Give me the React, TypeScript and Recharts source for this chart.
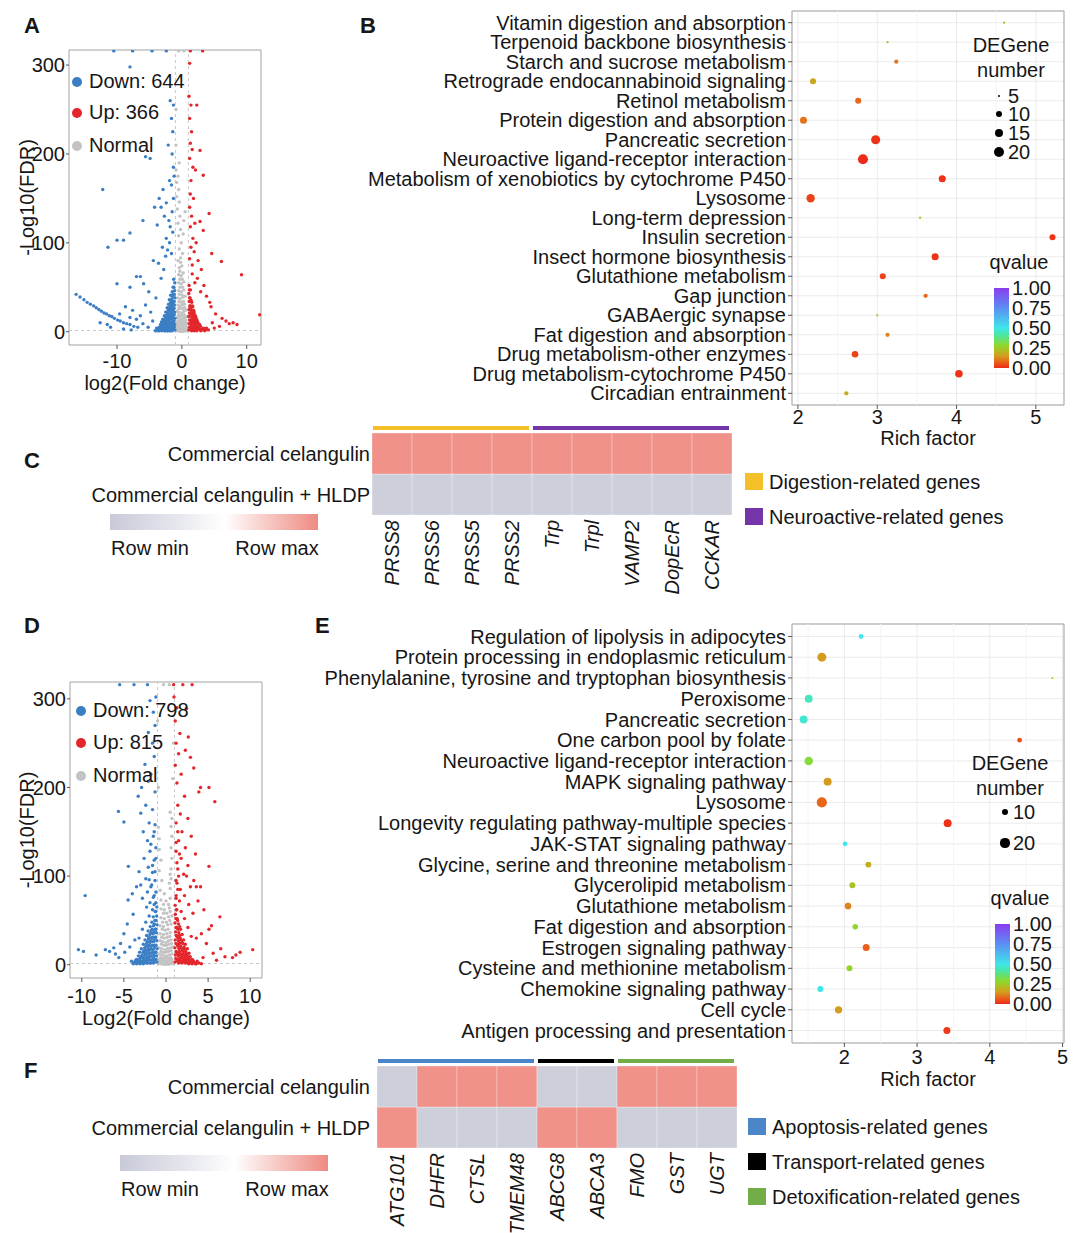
import React from 'react';
import {
  ScatterChart, Scatter, XAxis, YAxis, ZAxis, CartesianGrid, ReferenceLine, ReferenceArea, Cell,
  BarChart, Bar,
} from 'recharts';

const FONT = "'Liberation Sans', Arial, Helvetica, sans-serif";
const INK = '#161616';
const BLUE = '#3b7ec3';
const RED = '#e3262b';
const GRAY = '#c3c3c3';
const BORDER = '#a3a3a3';

type P = [number, number];

// ---------- A: volcano (celangulin) ----------
const downA: P[] = [
  [-16.3, 42], [-15.7, 39], [-15.1, 36], [-14.6, 33], [-14.1, 31], [-13.6, 29], [-13.2, 27], [-12.8, 25], [-12.4, 23],
  [-12.0, 21], [-11.6, 20], [-11.2, 18], [-10.8, 17], [-10.4, 15], [-9.9, 13], [-9.5, 12], [-9.0, 10], [-8.5, 9],
  [-8.0, 8], [-7.4, 6], [-6.8, 5],
  [-12.6, 10], [-11.5, 8], [-11.0, 5], [-9.6, 20], [-9.0, 3], [-8.7, 28], [-8.0, 16], [-7.8, 2], [-7.6, 24], [-7.0, 14],
  [-6.4, 18], [-6.0, 9], [-5.6, 30], [-5.2, 5], [-4.8, 22], [-4.5, 12],
  [-10.0, 54], [-8.0, 50], [-7.0, 62], [-6.4, 62], [-5.9, 54], [-5.1, 45], [-4.4, 80], [-4.0, 38], [-3.6, 77], [-3.2, 60],
  [-2.8, 70], [-2.5, 85], [-2.2, 92], [-1.9, 100], [-1.6, 88], [-1.4, 112], [-1.8, 118], [-2.4, 105], [-3.0, 95],
  [-11.4, 95], [-10.0, 103], [-9.0, 103], [-8.0, 111], [-6.0, 125], [-12.2, 160], [-5.6, 197], [-4.9, 195], [-8.0, 298],
  [-4.2, 140], [-3.8, 120], [-3.5, 150], [-3.2, 140], [-2.9, 160], [-2.7, 130], [-2.4, 145], [-2.0, 125], [-1.5, 135],
  [-1.3, 150], [-1.2, 175], [-1.6, 165], [-1.9, 170], [-1.3, 185], [-1.5, 200], [-2.1, 210], [-1.4, 225], [-1.6, 240],
  [-1.3, 255], [-1.8, 260],
  [-10.5, 316], [-7.6, 316], [-4.6, 316], [-2.4, 316],
  [-1.08, 2], [-1.12, 8], [-1.06, 15], [-1.1, 22], [-1.15, 30], [-1.07, 38], [-1.12, 46], [-1.09, 55],
  [-1.3, 4], [-1.28, 11], [-1.34, 18], [-1.27, 26], [-1.32, 34], [-1.29, 42], [-1.35, 50], [-1.26, 59],
  [-1.52, 1], [-1.48, 7], [-1.55, 14], [-1.5, 21], [-1.46, 29], [-1.54, 37], [-1.49, 45],
  [-1.72, 3], [-1.68, 10], [-1.74, 17], [-1.7, 25], [-1.66, 33], [-1.73, 41],
  [-1.91, 1], [-1.88, 6], [-1.95, 13], [-1.9, 20], [-1.86, 28], [-1.93, 36],
  [-2.12, 3], [-2.08, 9], [-2.15, 16], [-2.1, 24], [-2.06, 31],
  [-2.32, 1], [-2.28, 6], [-2.34, 12], [-2.3, 19], [-2.27, 27],
  [-2.52, 3], [-2.48, 9], [-2.55, 15], [-2.5, 22],
  [-2.72, 1], [-2.68, 6], [-2.74, 12], [-2.7, 18],
  [-2.92, 3], [-2.88, 8], [-2.95, 14], [-3.12, 1], [-3.08, 5], [-3.14, 11],
  [-3.32, 3], [-3.28, 8], [-3.52, 1], [-3.48, 5], [-3.72, 2], [-3.9, 4], [-4.1, 1],
  [-1.19, 5], [-1.21, 12], [-1.18, 19], [-1.22, 26], [-1.2, 34], [-1.17, 42], [-1.23, 50],
  [-1.4, 2], [-1.42, 9], [-1.39, 16], [-1.41, 24], [-1.43, 32], [-1.38, 40],
  [-1.6, 4], [-1.62, 11], [-1.59, 18], [-1.61, 26], [-1.63, 34],
  [-1.8, 1], [-1.82, 8], [-1.79, 15], [-1.81, 23], [-1.78, 31],
  [-2.0, 5], [-2.02, 11], [-1.99, 18], [-2.01, 26],
  [-2.2, 1], [-2.22, 7], [-2.19, 14], [-2.21, 21],
  [-2.4, 4], [-2.42, 10], [-2.39, 17], [-2.6, 1], [-2.62, 6], [-2.59, 12],
  [-2.8, 3], [-2.82, 9], [-3.0, 2], [-3.02, 7], [-3.2, 5], [-3.4, 2], [-3.6, 4], [-3.8, 1],
];
const upA: P[] = [
  [1.2, 302], [1.1, 265], [1.4, 255], [2.3, 255], [1.2, 240], [1.5, 225], [1.3, 212], [1.6, 205], [2.8, 204], [1.2, 195],
  [1.7, 185], [2.1, 182], [3.3, 176], [1.4, 170], [1.3, 155], [1.8, 150], [1.2, 140], [1.5, 130], [2.0, 122], [2.8, 124],
  [3.3, 114], [4.2, 133], [1.3, 118], [1.7, 105], [2.2, 100], [1.4, 95], [4.6, 88], [6.1, 79], [9.2, 64], [1.9, 90],
  [2.5, 80], [3.0, 70], [1.6, 75], [1.2, 82],
  [12.0, 19], [7.3, 9], [7.9, 10], [8.5, 8], [6.8, 12], [4.5, 28], [4.3, 33], [5.2, 20], [5.8, 6], [6.2, 15], [3.8, 40],
  [3.4, 52], [2.9, 45], [2.4, 60], [2.0, 55], [1.6, 65], [5.0, 4], [4.7, 10],
  [1.3, 316], [3.2, 316],
  [1.08, 2], [1.12, 9], [1.06, 17], [1.1, 25], [1.14, 34], [1.07, 43], [1.11, 52],
  [1.3, 5], [1.27, 13], [1.33, 21], [1.29, 29], [1.26, 38], [1.32, 47],
  [1.5, 1], [1.47, 8], [1.53, 16], [1.49, 24], [1.52, 33],
  [1.7, 4], [1.67, 11], [1.73, 19], [1.69, 28],
  [1.9, 1], [1.88, 7], [1.93, 14], [1.89, 22],
  [2.1, 3], [2.07, 10], [2.13, 17], [2.3, 1], [2.28, 6], [2.33, 13],
  [2.6, 3], [2.57, 9], [2.9, 1], [2.88, 6], [3.2, 3], [3.5, 1], [3.8, 4], [4.1, 2],
  [1.19, 5], [1.21, 13], [1.18, 21], [1.22, 29], [1.2, 38], [1.17, 47],
  [1.4, 3], [1.42, 11], [1.39, 19], [1.41, 27], [1.43, 35],
  [1.6, 5], [1.62, 13], [1.59, 21], [1.61, 29],
  [1.8, 2], [1.82, 9], [1.79, 17], [1.81, 24],
  [2.0, 5], [2.02, 12], [1.99, 19], [2.2, 2], [2.22, 8], [2.19, 15],
  [2.45, 5], [2.42, 11], [2.75, 3], [2.72, 8], [3.05, 2], [3.35, 4], [3.65, 2],
];
const normalA: P[] = [
  [-0.9, 1], [-0.6, 1], [-0.3, 0.5], [0, 0.3], [0.3, 0.5], [0.6, 1], [0.9, 1],
  [-0.8, 5], [-0.5, 4], [-0.2, 3], [0.1, 3], [0.4, 4], [0.7, 5],
  [-0.8, 10], [-0.5, 9], [-0.2, 8], [0.1, 8], [0.4, 9], [0.7, 10],
  [-0.7, 16], [-0.4, 15], [-0.1, 14], [0.2, 15], [0.5, 16], [0.8, 17],
  [-0.7, 23], [-0.4, 22], [0.0, 21], [0.3, 23], [0.6, 24],
  [-0.6, 30], [-0.3, 29], [0.1, 30], [0.4, 31],
  [-0.6, 38], [-0.2, 37], [0.2, 39], [0.5, 40],
  [-0.5, 46], [-0.1, 45], [0.3, 47], [-0.5, 55], [-0.1, 54], [0.3, 56],
  [-0.5, 64], [-0.1, 63], [0.2, 66], [-0.4, 72], [0.0, 74], [-0.6, 80], [-0.2, 83], [0.1, 88], [-0.4, 93],
  [-0.1, 100], [-0.5, 108], [-0.2, 115], [-0.6, 122], [-0.3, 130], [-0.7, 138], [-0.4, 146], [-0.8, 152],
  [-0.5, 160], [-0.8, 168], [-0.6, 175], [-0.9, 182], [-0.4, 190], [0.2, 110], [0.3, 125], [-0.9, 210],
  [-0.9, 250], [0.5, 135], [-0.5, 316], [0.3, 316],
  [-0.75, 3], [-0.45, 2], [-0.15, 1.5], [0.15, 1.5], [0.45, 2], [0.75, 3], [-0.65, 7], [-0.35, 6], [-0.05, 5.5],
  [0.25, 6], [0.55, 7], [-0.6, 12], [-0.3, 12], [0, 11], [0.3, 12], [0.6, 13], [-0.55, 19], [-0.25, 18], [0.05, 18],
  [0.35, 19], [-0.5, 26], [-0.2, 26], [0.15, 26], [0.45, 27], [-0.45, 34], [-0.1, 33], [0.25, 34], [-0.4, 42],
  [0.05, 41], [-0.3, 50], [0.1, 50], [-0.3, 59], [0.05, 59], [-0.3, 68], [-0.2, 78],
];

// ---------- D: volcano (celangulin + HLDP) ----------
const downD: P[] = [
  [-5.5, 316], [-3.8, 316], [-2.2, 316],
  [-1.2, 302], [-1.9, 298], [-1.5, 285], [-1.3, 270], [-2.1, 262], [-1.6, 250], [-2.5, 226], [-1.4, 235], [-2.1, 207],
  [-2.9, 200], [-3.3, 190], [-1.8, 215], [-1.3, 195], [-3.0, 171], [-2.4, 180], [-5.65, 173], [-5.0, 161], [-1.6, 175],
  [-2.0, 160], [-1.3, 158], [-2.7, 150], [-1.5, 145], [-2.2, 140], [-1.2, 132], [-1.9, 128], [-2.6, 120], [-1.4, 118],
  [-4.47, 111], [-2.1, 110], [-3.2, 105], [-1.6, 104], [-1.3, 95], [-2.4, 97], [-3.0, 90], [-1.8, 88], [-3.5, 88],
  [-4.0, 80], [-4.5, 73], [-2.2, 82], [-1.4, 78], [-2.8, 75], [-9.6, 78], [-3.9, 57], [-4.6, 46], [-5.0, 35], [-5.4, 24],
  [-4.3, 20], [-3.7, 28], [-6.0, 12], [-6.2, 19], [-6.7, 15], [-7.2, 17], [-8.3, 11], [-9.8, 15], [-10.4, 17], [-5.6, 8],
  [-4.9, 14],
  [-1.2, 70], [-1.4, 68], [-1.6, 62], [-1.2, 82], [-1.5, 76], [-1.9, 70], [-2.3, 65], [-1.7, 90], [-2.0, 96], [-1.3, 105],
  [-1.6, 112], [-1.2, 120], [-1.8, 136], [-1.4, 150], [-2.0, 55], [-2.4, 48], [-2.8, 40], [-3.2, 30],
  [-1.08, 3], [-1.12, 10], [-1.06, 18], [-1.1, 27], [-1.14, 36], [-1.07, 45], [-1.11, 55], [-1.09, 65],
  [-1.3, 6], [-1.27, 14], [-1.33, 22], [-1.29, 31], [-1.26, 40], [-1.32, 50], [-1.28, 60],
  [-1.5, 2], [-1.47, 9], [-1.53, 17], [-1.49, 26], [-1.52, 35], [-1.48, 44], [-1.51, 54],
  [-1.7, 5], [-1.67, 13], [-1.73, 21], [-1.69, 30], [-1.72, 39], [-1.68, 48],
  [-1.9, 2], [-1.88, 9], [-1.93, 17], [-1.89, 25], [-1.92, 34], [-1.87, 43],
  [-2.1, 5], [-2.07, 12], [-2.13, 20], [-2.09, 29], [-2.12, 38],
  [-2.3, 2], [-2.28, 8], [-2.33, 16], [-2.29, 24], [-2.31, 33],
  [-2.5, 4], [-2.47, 11], [-2.53, 19], [-2.49, 28],
  [-2.7, 1], [-2.68, 7], [-2.73, 14], [-2.69, 23],
  [-2.9, 4], [-2.88, 10], [-2.93, 18], [-3.1, 1], [-3.08, 7], [-3.13, 14],
  [-3.3, 3], [-3.28, 10], [-3.5, 1], [-3.48, 6], [-3.7, 3], [-3.9, 1], [-4.1, 4],
  [-1.19, 6], [-1.21, 14], [-1.18, 22], [-1.22, 31], [-1.2, 40], [-1.17, 50], [-1.23, 60],
  [-1.4, 3], [-1.42, 11], [-1.39, 19], [-1.41, 28], [-1.43, 37], [-1.38, 46],
  [-1.6, 6], [-1.62, 14], [-1.59, 22], [-1.61, 31], [-1.63, 40],
  [-1.8, 2], [-1.82, 10], [-1.79, 18], [-1.81, 27], [-1.78, 36],
  [-2.0, 6], [-2.02, 14], [-1.99, 22], [-2.01, 31],
  [-2.2, 2], [-2.22, 9], [-2.19, 17], [-2.21, 26],
  [-2.4, 5], [-2.42, 13], [-2.39, 21], [-2.6, 2], [-2.62, 8], [-2.59, 16],
  [-2.8, 4], [-2.82, 11], [-3.0, 2], [-3.02, 8], [-3.2, 5], [-3.4, 2], [-3.6, 5], [-3.8, 2],
];
const upD: P[] = [
  [0.9, 316], [2.0, 316], [3.1, 316],
  [0.95, 302], [1.3, 290], [2.45, 289], [1.1, 275], [1.65, 261], [2.65, 257], [1.2, 250], [2.3, 242], [1.5, 238],
  [2.9, 234], [1.1, 225], [3.3, 222], [1.8, 215], [1.3, 205], [4.1, 200], [5.1, 200], [3.9, 195], [2.2, 190], [5.8, 184],
  [1.4, 180], [1.7, 170], [2.6, 165], [1.2, 160], [1.9, 150], [3.0, 145], [1.5, 140], [2.3, 132], [1.2, 128], [3.5, 125],
  [1.8, 120], [2.6, 112], [5.1, 111], [1.4, 108], [2.1, 102], [2.45, 100], [3.3, 95], [1.3, 92], [2.9, 88], [3.6, 88],
  [4.1, 88], [1.7, 85], [2.2, 78], [3.8, 72], [1.2, 75], [2.7, 68], [4.5, 62], [6.4, 54], [3.2, 58], [5.1, 40], [5.4, 44],
  [4.2, 35], [3.6, 30], [4.8, 24], [5.6, 13], [6.5, 18], [7.0, 9], [7.9, 8], [8.3, 11], [8.8, 14], [10.3, 17], [6.0, 5],
  [4.4, 8],
  [1.2, 78], [1.4, 85], [1.6, 72], [1.2, 95], [1.5, 100], [1.3, 115], [1.6, 125], [1.2, 138], [1.4, 150], [1.8, 60],
  [2.2, 52], [2.6, 42], [3.0, 32],
  [1.08, 3], [1.12, 11], [1.06, 19], [1.1, 28], [1.14, 37], [1.07, 47], [1.11, 57], [1.09, 67],
  [1.3, 6], [1.27, 14], [1.33, 23], [1.29, 32], [1.26, 42], [1.32, 52], [1.28, 62],
  [1.5, 2], [1.47, 10], [1.53, 18], [1.49, 27], [1.52, 36], [1.48, 46],
  [1.7, 5], [1.67, 13], [1.73, 21], [1.69, 30], [1.72, 40],
  [1.9, 2], [1.88, 9], [1.93, 17], [1.89, 25], [1.92, 34],
  [2.1, 5], [2.07, 12], [2.13, 20], [2.09, 28],
  [2.3, 2], [2.28, 8], [2.33, 15], [2.29, 23],
  [2.5, 4], [2.47, 11], [2.53, 18], [2.7, 1], [2.68, 7], [2.73, 13],
  [2.9, 3], [2.88, 9], [3.1, 1], [3.08, 6], [3.3, 3], [3.5, 1], [3.7, 4], [3.9, 2], [4.2, 1],
  [1.19, 7], [1.21, 15], [1.18, 24], [1.22, 33], [1.2, 42], [1.17, 52], [1.23, 62],
  [1.4, 4], [1.42, 12], [1.39, 21], [1.41, 30], [1.43, 40], [1.38, 50],
  [1.6, 7], [1.62, 15], [1.59, 24], [1.61, 33], [1.63, 43],
  [1.8, 3], [1.82, 11], [1.79, 19], [1.81, 28],
  [2.0, 7], [2.02, 15], [1.99, 24], [2.2, 3], [2.22, 10], [2.19, 18],
  [2.4, 6], [2.42, 13], [2.6, 2], [2.62, 9], [2.8, 5], [3.0, 2], [3.2, 5], [3.4, 2], [3.6, 1],
];
const normalD: P[] = [
  [-0.9, 1], [-0.6, 1], [-0.3, 0.5], [0, 0.3], [0.3, 0.5], [0.6, 1], [0.9, 1],
  [-0.8, 6], [-0.5, 5], [-0.2, 4], [0.1, 4], [0.4, 5], [0.7, 6],
  [-0.8, 12], [-0.5, 11], [-0.2, 10], [0.1, 10], [0.4, 11], [0.7, 12],
  [-0.8, 19], [-0.5, 18], [-0.1, 17], [0.2, 18], [0.5, 19], [0.8, 20],
  [-0.7, 27], [-0.4, 26], [0.0, 25], [0.3, 27], [0.6, 28],
  [-0.7, 35], [-0.3, 34], [0.1, 35], [0.5, 36],
  [-0.7, 44], [-0.3, 43], [0.2, 45], [0.6, 46],
  [-0.6, 53], [-0.2, 52], [0.3, 54], [0.7, 55],
  [-0.6, 63], [-0.2, 62], [0.4, 64], [-0.6, 73], [0.0, 72], [0.5, 75],
  [-0.7, 84], [0.5, 86], [-0.5, 95], [0.6, 97], [-0.8, 106], [0.6, 108], [-0.6, 118], [0.7, 120], [-0.8, 130],
  [0.6, 132], [-0.8, 142], [0.7, 145], [0.6, 156], [0.7, 165], [-0.9, 155], [0.5, 172], [-0.9, 200], [0.8, 210],
  [-1.0, 275], [0.9, 250], [-0.3, 316], [0.4, 316],
  [-0.75, 3], [-0.45, 2], [-0.15, 1.5], [0.15, 1.5], [0.45, 2], [0.75, 3], [-0.65, 8], [-0.35, 7], [-0.05, 7],
  [0.25, 7], [0.55, 8], [-0.6, 15], [-0.3, 14], [0, 14], [0.3, 15], [0.6, 16], [-0.55, 23], [-0.25, 22], [0.05, 22],
  [0.35, 23], [0.65, 24], [-0.5, 31], [-0.2, 30], [0.15, 31], [0.45, 32], [-0.45, 40], [-0.1, 39], [0.25, 40],
  [-0.4, 48], [0.05, 48], [0.45, 50], [-0.3, 58], [0.1, 58], [0.5, 60], [-0.3, 68], [0.3, 68], [-0.2, 80], [0.4, 92],
  [0.5, 102],
];

// ---------- B: KEGG enrichment (celangulin) ----------
const pathwaysB = [
  'Vitamin digestion and absorption', 'Terpenoid backbone biosynthesis', 'Starch and sucrose metabolism',
  'Retrograde endocannabinoid signaling', 'Retinol metabolism', 'Protein digestion and absorption',
  'Pancreatic secretion', 'Neuroactive ligand-receptor interaction', 'Metabolism of xenobiotics by cytochrome P450',
  'Lysosome', 'Long-term depression', 'Insulin secretion', 'Insect hormone biosynthesis', 'Glutathione metabolism',
  'Gap junction', 'GABAergic synapse', 'Fat digestion and absorption', 'Drug metabolism-other enzymes',
  'Drug metabolism-cytochrome P450', 'Circadian entrainment',
];
const richB = [4.6, 3.13, 3.24, 2.19, 2.76, 2.07, 2.98, 2.82, 3.82, 2.16, 3.54, 5.21, 3.73, 3.07, 3.61, 3.0, 3.13, 2.72, 4.03, 2.61];
const countB = [5, 5, 7, 10, 10, 12, 17, 20, 12, 15, 5, 10, 12, 10, 7, 5, 7, 11, 13, 7];
const qB = [0.2, 0.19, 0.1, 0.17, 0.08, 0.1, 0.01, 0.0, 0.01, 0.03, 0.21, 0.01, 0.01, 0.03, 0.08, 0.2, 0.12, 0.03, 0.01, 0.18];

// ---------- E: KEGG enrichment (celangulin + HLDP) ----------
const pathwaysE = [
  'Regulation of lipolysis in adipocytes', 'Protein processing in endoplasmic reticulum',
  'Phenylalanine, tyrosine and tryptophan biosynthesis', 'Peroxisome', 'Pancreatic secretion',
  'One carbon pool by folate', 'Neuroactive ligand-receptor interaction', 'MAPK signaling pathway', 'Lysosome',
  'Longevity regulating pathway-multiple species', 'JAK-STAT signaling pathway',
  'Glycine, serine and threonine metabolism', 'Glycerolipid metabolism', 'Glutathione metabolism',
  'Fat digestion and absorption', 'Estrogen signaling pathway', 'Cysteine and methionine metabolism',
  'Chemokine signaling pathway', 'Cell cycle', 'Antigen processing and presentation',
];
const richE = [2.23, 1.69, 4.86, 1.51, 1.44, 4.41, 1.51, 1.77, 1.69, 3.42, 2.01, 2.33, 2.11, 2.05, 2.15, 2.3, 2.07, 1.67, 1.92, 3.41];
const countE = [6, 19, 2, 15, 15, 6, 17, 15, 24, 15, 6, 9, 9, 11, 8, 12, 9, 9, 13, 12];
const qE = [0.5, 0.15, 0.25, 0.45, 0.47, 0.05, 0.3, 0.15, 0.08, 0.01, 0.5, 0.19, 0.23, 0.12, 0.27, 0.07, 0.27, 0.5, 0.15, 0.02];

// ---------- C / F: heatmaps (row-scaled) ----------
const rowNames = ['Commercial celangulin', 'Commercial celangulin + HLDP'];
const genesC = ['PRSS8', 'PRSS6', 'PRSS5', 'PRSS2', 'Trp', 'Trpl', 'VAMP2', 'DopEcR', 'CCKAR'];
const celC = [1, 1, 1, 1, 1, 1, 1, 1, 1];
const hldpC = [0, 0, 0, 0, 0, 0, 0, 0, 0];
const groupsC = [
  { label: 'Digestion-related genes', color: '#f4c02a', from: 0, to: 3 },
  { label: 'Neuroactive-related genes', color: '#7335a8', from: 4, to: 8 },
];
const genesF = ['ATG101', 'DHFR', 'CTSL', 'TMEM48', 'ABCG8', 'ABCA3', 'FMO', 'GST', 'UGT'];
const celF = [0, 1, 1, 1, 0, 0, 1, 1, 1];
const hldpF = [1, 0, 0, 0, 1, 1, 0, 0, 0];
const groupsF = [
  { label: 'Apoptosis-related genes', color: '#4b86c9', from: 0, to: 3 },
  { label: 'Transport-related genes', color: '#000000', from: 4, to: 5 },
  { label: 'Detoxification-related genes', color: '#73ad48', from: 6, to: 8 },
];

const qTicks = [1, 0.75, 0.5, 0.25, 0];
const Q_STOPS: [number, string][] = [
  [0, '#ee2a18'], [0.08, '#e8661a'], [0.15, '#d49c1e'], [0.2, '#bcb41e'], [0.28, '#8fd82a'],
  [0.42, '#48e6a8'], [0.5, '#3fe6ea'], [0.75, '#5b8ef2'], [1, '#8b3cf0'],
];
const HEAT_LOW = '#cdcfdb';
const HEAT_HIGH = '#f0918a';

function rgb(h: string) {
  const n = parseInt(h.slice(1), 16);
  return [(n >> 16) & 255, (n >> 8) & 255, n & 255];
}
function mix(c0: string, c1: string, t: number) {
  const a = rgb(c0), b = rgb(c1);
  return `rgb(${a.map((v, k) => Math.round(v + (b[k] - v) * t)).join(',')})`;
}
function qColor(q: number) {
  for (let i = 1; i < Q_STOPS.length; i++) {
    const [p0, c0] = Q_STOPS[i - 1];
    const [p1, c1] = Q_STOPS[i];
    if (q <= p1) return mix(c0, c1, (q - p0) / (p1 - p0));
  }
  return Q_STOPS[Q_STOPS.length - 1][1];
}
const heatColor = (v: number) => (v >= 0.5 ? HEAT_HIGH : HEAT_LOW);
const qGradient = `linear-gradient(to top, ${Q_STOPS.map(([p, c]) => `${c} ${p * 100}%`).join(', ')})`;
const zRadius = (n: number, d: number[], r: number[]) =>
  Math.sqrt((r[0] + ((r[1] - r[0]) * (n - d[0])) / (d[1] - d[0])) / Math.PI);

const T = ({ x, y, children, size = 20, weight = 400, anchor = 'start' }: any) => (
  <div
    style={{
      position: 'absolute', left: x, top: y, fontSize: size, fontWeight: weight, lineHeight: 0.9, whiteSpace: 'nowrap',
      transform: `translate(${anchor === 'middle' ? '-50%' : anchor === 'end' ? '-100%' : '0'}, -50%)`,
    }}
  >
    {children}
  </div>
);
const Dot = ({ x, y, r, color }: any) => (
  <div style={{ position: 'absolute', left: x - r, top: y - r, width: 2 * r, height: 2 * r, borderRadius: '50%', background: color }} />
);

const tickStyle = { fill: INK, fontSize: 20 };
const toXY = (pts: P[]) => pts.map(([x, y]) => ({ x, y }));
const pointShape = (color: string) => (p: any) => <circle cx={p.cx} cy={p.cy} r={1.7} fill={color} />;

function Volcano(props: any) {
  const { left, top, width, height, margin, yWidth, xHeight, xDomain, yDomain, xTicks, xLabel, xLabelOffset, xTickMargin, yLabelOffset, down, up, normal } = props;
  return (
    <div style={{ position: 'absolute', left, top }}>
      <ScatterChart width={width} height={height} margin={margin}>
        <XAxis type="number" dataKey="x" domain={xDomain} ticks={xTicks} allowDataOverflow interval={0} height={xHeight}
          axisLine={false} tickSize={4} tickMargin={xTickMargin} tickLine={{ stroke: '#555' }} tick={tickStyle}
          label={{ value: xLabel, position: 'insideBottom', offset: xLabelOffset, fill: INK, fontSize: 20 }} />
        <YAxis type="number" dataKey="y" domain={yDomain} ticks={[0, 100, 200, 300]} allowDataOverflow interval={0} width={yWidth}
          axisLine={false} tickSize={3} tickMargin={1} tickLine={{ stroke: '#555' }} tick={tickStyle}
          label={{ value: '-Log10(FDR)', angle: -90, position: 'insideLeft', offset: yLabelOffset, fill: INK, fontSize: 20, style: { textAnchor: 'middle' } }} />
        <ReferenceLine x={-1} stroke="#c8c8c8" strokeDasharray="3 3" />
        <ReferenceLine x={1} stroke="#c8c8c8" strokeDasharray="3 3" />
        <ReferenceLine y={1.3} stroke="#c8c8c8" strokeDasharray="3 3" />
        <Scatter name="Normal" data={toXY(normal)} fill={GRAY} shape={pointShape(GRAY)} isAnimationActive={false} />
        <Scatter name="Down" data={toXY(down)} fill={BLUE} shape={pointShape(BLUE)} isAnimationActive={false} />
        <Scatter name="Up" data={toXY(up)} fill={RED} shape={pointShape(RED)} isAnimationActive={false} />
        <ReferenceArea x1={xDomain[0]} x2={xDomain[1]} y1={yDomain[0]} y2={yDomain[1]} fill="none" stroke={BORDER} ifOverflow="visible" />
      </ScatterChart>
    </div>
  );
}

function Bubbles(props: any) {
  const { top, height, marginTop, xHeight, names, rich, count, q, xDomain, minor, zDomain, zRange, xTickMargin, xLabelOffset } = props;
  const n = names.length;
  const data = names.map((name: string, i: number) => ({ name, rf: rich[i], y: n - i, genes: count[i], q: q[i] }));
  return (
    <div style={{ position: 'absolute', left: 300, top }}>
      <ScatterChart width={780} height={height} margin={{ top: marginTop, right: 16, left: 0, bottom: 0 }}>
        <CartesianGrid stroke="#ebebeb" />
        {minor.map((m: number) => <ReferenceLine key={m} x={m} stroke="#f4f4f4" />)}
        <XAxis type="number" dataKey="rf" domain={xDomain} ticks={[2, 3, 4, 5]} allowDataOverflow interval={0} height={xHeight}
          axisLine={false} tickSize={4} tickMargin={xTickMargin} tickLine={{ stroke: '#555' }} tick={tickStyle}
          label={{ value: 'Rich factor', position: 'insideBottom', offset: xLabelOffset, fill: INK, fontSize: 20 }} />
        <YAxis type="number" dataKey="y" domain={[0.4, n + 0.6]} ticks={names.map((_: string, i: number) => i + 1)}
          tickFormatter={(v: number) => names[n - v]} allowDataOverflow interval={0} width={492}
          axisLine={false} tickSize={4} tickMargin={2} tickLine={{ stroke: '#555' }} tick={tickStyle} />
        <ZAxis type="number" dataKey="genes" domain={zDomain} range={zRange} />
        <Scatter data={data} isAnimationActive={false}>
          {data.map((d: any, i: number) => <Cell key={i} fill={qColor(d.q)} />)}
        </Scatter>
        <ReferenceArea x1={xDomain[0]} x2={xDomain[1]} y1={0.4} y2={n + 0.6} fill="none" stroke={BORDER} ifOverflow="visible" />
      </ScatterChart>
    </div>
  );
}

const geneTick = (p: any) => {
  const bx = p.x + 7;
  const by = p.y + 5;
  return (
    <text x={bx} y={by} transform={`rotate(-90, ${bx}, ${by})`} textAnchor="end" fontSize={20} fontStyle="italic" fill={INK}>
      {p.payload.value}
    </text>
  );
};

function Heatmap(props: any) {
  const { top, axisWidth, labelGap, genes, upper, lower } = props;
  const data = genes.map((gene: string) => ({ gene, upperRow: 1, lowerRow: 1 }));
  return (
    <div style={{ position: 'absolute', left: 0, top }}>
      <BarChart width={axisWidth + genes.length * 40} height={82 + 96} data={data} margin={{ top: 0, right: 0, left: 0, bottom: 0 }}
        barCategoryGap={0} barGap={0}>
        <XAxis dataKey="gene" interval={0} height={96} axisLine={false} tickLine={false} tickSize={0} tickMargin={0} tick={geneTick} />
        <YAxis type="number" domain={[0, 2]} ticks={[0.5, 1.5]} tickFormatter={(v: number) => (v > 1 ? rowNames[0] : rowNames[1])}
          width={axisWidth} axisLine={false} tickLine={false} tickSize={0} tickMargin={labelGap} interval={0} tick={tickStyle} />
        <Bar dataKey="lowerRow" stackId="h" isAnimationActive={false} stroke="#ffffff" strokeOpacity={0.3}>
          {lower.map((v: number, i: number) => <Cell key={i} fill={heatColor(v)} />)}
        </Bar>
        <Bar dataKey="upperRow" stackId="h" isAnimationActive={false} stroke="#ffffff" strokeOpacity={0.3}>
          {upper.map((v: number, i: number) => <Cell key={i} fill={heatColor(v)} />)}
        </Bar>
      </BarChart>
    </div>
  );
}

const rowScale = 'linear-gradient(to right, #c8cad8 0%, #e4e5ec 30%, #ffffff 55%, #f6c3be 78%, #ee8a82 100%)';

function HeatExtras({ heatLeft, barTop, scaleLeft, scaleTop, groups, legendX, legendY }: any) {
  return (
    <>
      {groups.map((g: any) => (
        <div key={g.label} style={{ position: 'absolute', left: heatLeft + g.from * 40 + 1, top: barTop, width: (g.to - g.from + 1) * 40 - 4, height: 4, background: g.color }} />
      ))}
      <div style={{ position: 'absolute', left: scaleLeft, top: scaleTop, width: 208, height: 16, background: rowScale }} />
      <T x={scaleLeft + 40} y={scaleTop + 34} anchor="middle">Row min</T>
      <T x={scaleLeft + 167} y={scaleTop + 34} anchor="middle">Row max</T>
      {groups.map((g: any, i: number) => (
        <React.Fragment key={g.label}>
          <div style={{ position: 'absolute', left: legendX, top: legendY + i * 35 - 9, width: 18, height: 17, background: g.color }} />
          <T x={legendX + 24} y={legendY + i * 35}>{g.label}</T>
        </React.Fragment>
      ))}
    </>
  );
}

function SizeLegend({ x, y, sizes, gaps, zDomain, zRange, dotX, textX }: any) {
  return (
    <>
      <T x={x} y={y} anchor="middle">DEGene</T>
      <T x={x} y={y + 25} anchor="middle">number</T>
      {sizes.map((s: number, i: number) => (
        <React.Fragment key={s}>
          <Dot x={dotX} y={y + gaps[i]} r={zRadius(s, zDomain, zRange)} color="#000" />
          <T x={textX} y={y + gaps[i]}>{s}</T>
        </React.Fragment>
      ))}
    </>
  );
}

function QLegend({ x, y }: any) {
  return (
    <>
      <T x={x + 25} y={y} anchor="middle">qvalue</T>
      <div style={{ position: 'absolute', left: x, top: y + 26, width: 15, height: 80, background: qGradient }} />
      {qTicks.map((v) => (
        <T key={v} x={x + 18} y={y + 26 + (1 - v) * 80}>{v.toFixed(2)}</T>
      ))}
    </>
  );
}

export default function App() {
  return (
    <div style={{ position: 'absolute', left: 0, top: 0, width: 1080, height: 1233, background: '#fff', fontFamily: FONT, color: INK, overflow: 'hidden' }}>
      {/* A */}
      <Volcano left={0} top={0} width={270} height={400} margin={{ top: 50, right: 9, left: 0, bottom: 0 }} yWidth={69} xHeight={55}
        xDomain={[-17.4, 12.2]} yDomain={[-15, 317]} xTicks={[-10, 0, 10]} xLabel="log2(Fold change)" xLabelOffset={10}
        xTickMargin={5} yLabelOffset={27} down={downA} up={upA} normal={normalA} />
      <Dot x={77} y={82} r={5.3} color={BLUE} /><T x={89} y={81}>Down: 644</T>
      <Dot x={77} y={113} r={5.3} color={RED} /><T x={89} y={112}>Up: 366</T>
      <Dot x={77} y={146} r={5.3} color={GRAY} /><T x={89} y={145}>Normal</T>

      {/* B */}
      <Bubbles top={0} height={450} marginTop={11} xHeight={45} names={pathwaysB} rich={richB} count={countB} q={qB}
        xDomain={[1.925, 5.355]} minor={[2.5, 3.5, 4.5]} zDomain={[5, 20]} zRange={[4, 80]} xTickMargin={1} xLabelOffset={5} />
      <SizeLegend x={1011} y={45} sizes={[5, 10, 15, 20]} gaps={[51, 69, 88, 107]} zDomain={[5, 20]} zRange={[4, 80]} dotX={999} textX={1008} />
      <QLegend x={994} y={262} />

      {/* C */}
      <Heatmap top={433} axisWidth={372} labelGap={2} genes={genesC} upper={celC} lower={hldpC} />
      <HeatExtras heatLeft={372} barTop={426} scaleLeft={110} scaleTop={514} groups={groupsC} legendX={745} legendY={482} />

      {/* D */}
      <Volcano left={0} top={610} width={270} height={430} margin={{ top: 72, right: 8, left: 0, bottom: 0 }} yWidth={70} xHeight={62}
        xDomain={[-11.4, 11.4]} yDomain={[-15, 319]} xTicks={[-10, -5, 0, 5, 10]} xLabel="Log2(Fold change)" xLabelOffset={15}
        xTickMargin={7} yLabelOffset={27} down={downD} up={upD} normal={normalD} />
      <Dot x={81} y={711} r={5.3} color={BLUE} /><T x={93} y={710}>Down: 798</T>
      <Dot x={81} y={743} r={5.3} color={RED} /><T x={93} y={742}>Up: 815</T>
      <Dot x={81} y={776} r={5.3} color={GRAY} /><T x={93} y={775}>Normal</T>

      {/* E */}
      <Bubbles top={610} height={480} marginTop={14} xHeight={47} names={pathwaysE} rich={richE} count={countE} q={qE}
        xDomain={[1.28, 5.02]} minor={[1.5, 2.5, 3.5, 4.5]} zDomain={[2, 25]} zRange={[3, 85]} xTickMargin={3} xLabelOffset={4} />
      <SizeLegend x={1010} y={763} sizes={[10, 20]} gaps={[49, 80]} zDomain={[2, 25]} zRange={[3, 85]} dotX={1005} textX={1013} />
      <QLegend x={995} y={898} />

      {/* F */}
      <Heatmap top={1066} axisWidth={377} labelGap={7} genes={genesF} upper={celF} lower={hldpF} />
      <HeatExtras heatLeft={377} barTop={1059} scaleLeft={120} scaleTop={1155} groups={groupsF} legendX={748} legendY={1127} />

      {/* panel letters */}
      <T x={24} y={26} size={22} weight={700}>A</T>
      <T x={360} y={26} size={22} weight={700}>B</T>
      <T x={24} y={461} size={22} weight={700}>C</T>
      <T x={24} y={626} size={22} weight={700}>D</T>
      <T x={315} y={626} size={22} weight={700}>E</T>
      <T x={24} y={1071} size={22} weight={700}>F</T>
    </div>
  );
}
